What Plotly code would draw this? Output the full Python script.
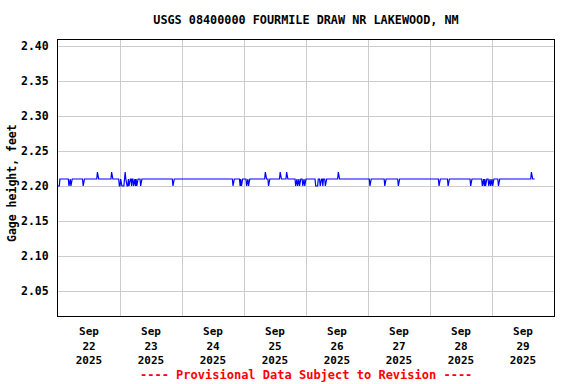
import plotly.graph_objects as go
import pandas as pd

title = "USGS 08400000 FOURMILE DRAW NR LAKEWOOD, NM"
y_label = "Gage height, feet"
footer = "---- Provisional Data Subject to Revision ----"

series_start = "2025-09-22 00:00"
series_end = "2025-09-29 16:30"
baseline_value = 2.21
dip_value = 2.20
spike_value = 2.22

dip_times = [
    "2025-09-22 00:00", "2025-09-22 00:15", "2025-09-22 00:30",
    "2025-09-22 04:15", "2025-09-22 05:00", "2025-09-22 09:45",
    "2025-09-22 23:45", "2025-09-23 00:00", "2025-09-23 00:30",
    "2025-09-23 00:45", "2025-09-23 01:00", "2025-09-23 01:15",
    "2025-09-23 01:30", "2025-09-23 02:30", "2025-09-23 02:45",
    "2025-09-23 03:00", "2025-09-23 03:30", "2025-09-23 04:30",
    "2025-09-23 05:15", "2025-09-23 06:00", "2025-09-23 06:30",
    "2025-09-23 08:00", "2025-09-23 20:30",
    "2025-09-24 19:45", "2025-09-24 22:30", "2025-09-24 23:00",
    "2025-09-25 01:00", "2025-09-25 01:45", "2025-09-25 09:30",
    "2025-09-25 20:00", "2025-09-25 20:45", "2025-09-25 21:30",
    "2025-09-25 22:45", "2025-09-25 23:30",
    "2025-09-26 03:45", "2025-09-26 04:00", "2025-09-26 04:15",
    "2025-09-26 04:30", "2025-09-26 05:30", "2025-09-26 06:30",
    "2025-09-26 07:30",
    "2025-09-27 00:45", "2025-09-27 06:30", "2025-09-27 11:45",
    "2025-09-28 03:30", "2025-09-28 07:00", "2025-09-28 15:45",
    "2025-09-28 20:15", "2025-09-28 21:00", "2025-09-28 21:30",
    "2025-09-28 22:45", "2025-09-28 23:30",
    "2025-09-29 00:15", "2025-09-29 02:30",
]
spike_times = [
    "2025-09-22 15:15", "2025-09-22 20:45", "2025-09-23 02:00",
    "2025-09-25 08:15", "2025-09-25 14:00", "2025-09-25 16:30",
    "2025-09-26 12:30", "2025-09-29 15:15",
]

day_centers = ["2025-09-%02d 12:00" % d for d in range(22, 30)]
day_labels = ["Sep<br>%d<br>2025" % d for d in range(22, 30)]
y_ticks = [2.05, 2.10, 2.15, 2.20, 2.25, 2.30, 2.35, 2.40]

times = pd.date_range(series_start, series_end, freq="15min")
vals = pd.Series(baseline_value, index=times)
vals[pd.to_datetime(dip_times)] = dip_value
vals[pd.to_datetime(spike_times)] = spike_value

font_family = "DejaVu Sans Mono"

fig = go.Figure()
fig.add_trace(go.Scatter(
    x=vals.index, y=vals.values, mode="lines",
    line=dict(color="#0000ff", width=1.2), showlegend=False,
))

fig.update_layout(
    width=576, height=384,
    margin=dict(l=58, r=22, t=40, b=68, autoexpand=False),
    paper_bgcolor="white", plot_bgcolor="white",
    font=dict(family=font_family, size=11, color="black"),
    title=dict(text="<b>" + title + "</b>", x=306 / 576, xanchor="center",
               y=1 - 20 / 384, yanchor="middle", automargin=False,
               font=dict(family=font_family, size=11.8, color="black")),
    showlegend=False,
)

fig.update_xaxes(
    type="date",
    range=["2025-09-22 00:00", "2025-09-30 00:00"],
    tickmode="array", tickvals=day_centers,
    ticktext=["<b>" + t + "</b>" for t in day_labels],
    ticks="", showgrid=False,
    minor=dict(dtick=86400000, tick0="2025-09-22", showgrid=True,
               gridcolor="#cccccc", gridwidth=1, ticks=""),
    showline=True, linecolor="black", linewidth=1, mirror=True,
    tickfont=dict(family=font_family, size=11, color="black"),
    ticklabelstandoff=5, automargin=False,
    zeroline=False,
)
fig.update_yaxes(
    range=[2.0143, 2.4086],
    tickmode="array", tickvals=y_ticks,
    ticktext=["<b>%.2f</b>" % v for v in y_ticks],
    ticks="", showgrid=True, gridcolor="#cccccc", gridwidth=1,
    showline=True, linecolor="black", linewidth=1, mirror=True,
    tickfont=dict(family=font_family, size=11.5, color="black"),
    ticklabelstandoff=6, automargin=False,
    zeroline=False,
)

fig.add_annotation(
    text="<b>" + y_label + "</b>", xref="paper", yref="paper",
    x=(12 - 58) / 496, y=(316 - 183) / 276, xanchor="center", yanchor="middle",
    textangle=-90, showarrow=False,
    font=dict(family=font_family, size=11.5, color="black"),
)

fig.add_annotation(
    text="<b>" + footer + "</b>", xref="paper", yref="paper",
    x=(306 - 58) / 496, y=-(375 - 316) / 276, xanchor="center", yanchor="middle",
    showarrow=False, font=dict(family=font_family, size=12, color="red"),
)

fig.write_html("out.html", config={"displayModeBar": False},
               post_script="document.body.style.margin='0';")
